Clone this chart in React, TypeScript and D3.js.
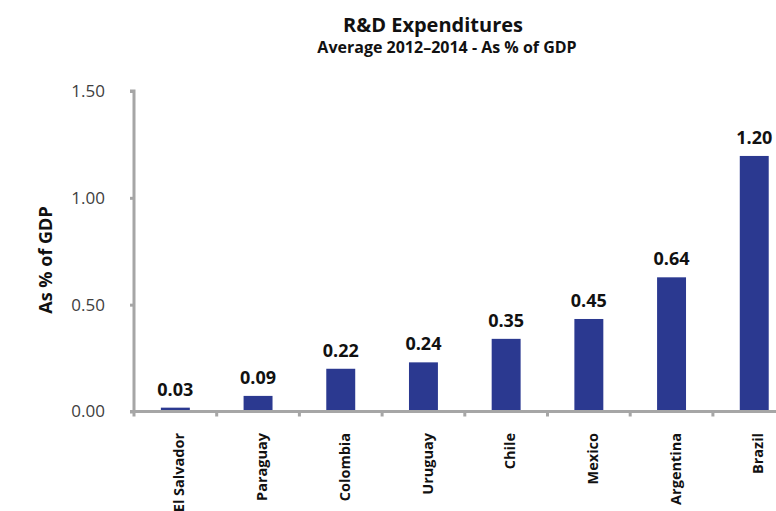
import React, { useEffect, useRef } from "react";
import * as d3 from "d3";

const countries = ["El Salvador", "Paraguay", "Colombia", "Uruguay", "Chile", "Mexico", "Argentina", "Brazil"];
// bar heights
const barValues = [0.018, 0.073, 0.2, 0.23, 0.34, 0.433, 0.628, 1.196];
// data labels printed above bars
const barLabels = ["0.03", "0.09", "0.22", "0.24", "0.35", "0.45", "0.64", "1.20"];
const yTicks = [0, 0.5, 1.0, 1.5];

const FONT = "'Open Sans', 'DejaVu Sans', sans-serif";

function App() {
  const svgRef = useRef<SVGSVGElement>(null);

  useEffect(() => {
    const width = 776;
    const height = 511;
    const x0 = 134;
    const yBottom = 411.5;
    const yTop = 91;

    const svg = d3.select(svgRef.current).attr("width", width).attr("height", height);
    svg.selectAll("*").remove();

    const xScale = d3
      .scaleBand()
      .domain(countries)
      .range([x0, x0 + 82.7 * countries.length])
      .paddingInner(0.65)
      .paddingOuter(0.325);

    const yScale = d3.scaleLinear().domain([0, 1.5]).range([yBottom, yTop]);

    // title
    svg
      .append("text")
      .attr("x", 433)
      .attr("y", 32)
      .attr("text-anchor", "middle")
      .attr("font-family", FONT)
      .attr("font-weight", "bold")
      .attr("font-size", 20)
      .attr("fill", "#111")
      .text("R&D Expenditures");

    svg
      .append("text")
      .attr("x", 447)
      .attr("y", 53)
      .attr("text-anchor", "middle")
      .attr("font-family", FONT)
      .attr("font-weight", "bold")
      .attr("font-size", 16)
      .attr("fill", "#111")
      .text("Average 2012\u20132014 - As % of GDP");

    // y axis title
    svg
      .append("text")
      .attr("transform", `translate(52,260) rotate(-90)`)
      .attr("text-anchor", "middle")
      .attr("font-family", FONT)
      .attr("font-weight", "bold")
      .attr("font-size", 18)
      .attr("fill", "#111")
      .text("As % of GDP");

    // bars
    svg
      .selectAll("rect.bar")
      .data(countries)
      .enter()
      .append("rect")
      .attr("class", "bar")
      .attr("x", (d) => xScale(d)!)
      .attr("y", (d, i) => yScale(barValues[i]))
      .attr("width", xScale.bandwidth())
      .attr("height", (d, i) => yBottom - yScale(barValues[i]))
      .attr("fill", "#2b3990");

    // data labels
    svg
      .selectAll("text.lbl")
      .data(countries)
      .enter()
      .append("text")
      .attr("class", "lbl")
      .attr("x", (d) => xScale(d)! + xScale.bandwidth() / 2)
      .attr("y", (d, i) => yScale(barValues[i]) - 12)
      .attr("text-anchor", "middle")
      .attr("font-family", FONT)
      .attr("font-weight", "bold")
      .attr("font-size", 18)
      .attr("fill", "#111")
      .text((d, i) => barLabels[i]);

    // y axis
    const yAxis = svg
      .append("g")
      .attr("transform", `translate(${x0},0)`)
      .call(
        d3
          .axisLeft(yScale)
          .tickValues(yTicks)
          .tickFormat(d3.format(".2f"))
          .tickSize(4)
          .tickPadding(25)
      );
    yAxis.select(".domain").attr("stroke", "#a6a6a6").attr("stroke-width", 3).attr("d", `M-4,${yTop}H0V${yBottom}`);
    yAxis.selectAll(".tick line").attr("stroke", "#a6a6a6").attr("stroke-width", 3);
    yAxis
      .selectAll(".tick text")
      .attr("font-family", FONT)
      .attr("font-size", 17)
      .attr("fill", "#404040");

    // x axis with boundary ticks
    const bounds = d3.range(countries.length + 1).map((i) => x0 + i * 82.7);
    const xAxis = svg.append("g");
    xAxis
      .append("line")
      .attr("x1", x0 - 4)
      .attr("x2", width)
      .attr("y1", yBottom)
      .attr("y2", yBottom)
      .attr("stroke", "#a6a6a6")
      .attr("stroke-width", 3);
    xAxis
      .selectAll("line.tk")
      .data(bounds)
      .enter()
      .append("line")
      .attr("class", "tk")
      .attr("x1", (d) => d)
      .attr("x2", (d) => d)
      .attr("y1", yBottom)
      .attr("y2", yBottom + 5)
      .attr("stroke", "#a6a6a6")
      .attr("stroke-width", 3);

    xAxis
      .selectAll("text.cat")
      .data(countries)
      .enter()
      .append("text")
      .attr("class", "cat")
      .attr(
        "transform",
        (d) => `translate(${xScale(d)! + xScale.bandwidth() / 2 + 4},433) rotate(-90)`
      )
      .attr("text-anchor", "end")
      .attr("dy", "0.35em")
      .attr("font-family", FONT)
      .attr("font-weight", "bold")
      .attr("font-size", 14.5)
      .attr("fill", "#111")
      .text((d) => d);
  }, []);

  return <svg ref={svgRef} style={{ position: "absolute", left: 0, top: 0 }}></svg>;
}

export default App;
